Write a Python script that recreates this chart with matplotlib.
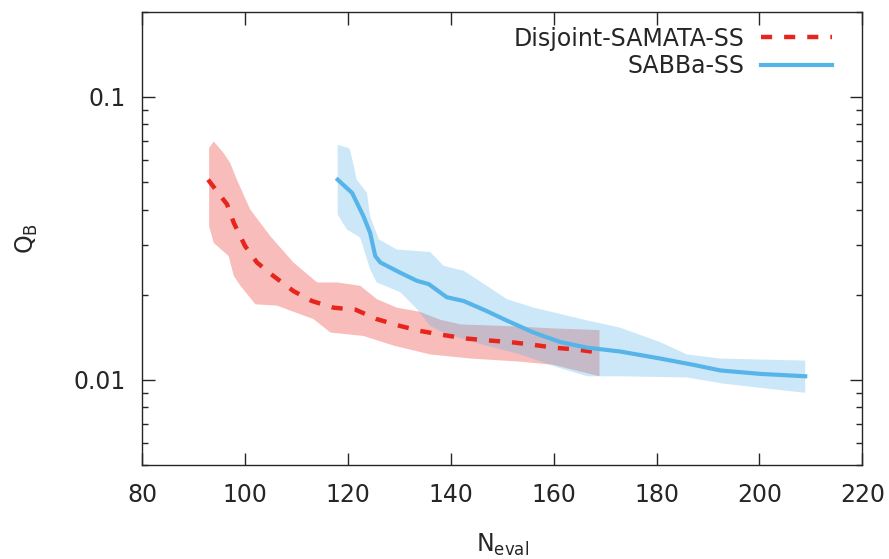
import numpy as np
import matplotlib.pyplot as plt

# Disjoint-SAMATA-SS: mean curve and band edges
samata_x = [92.8, 96.5, 97.8, 100.0, 102.3, 105.5, 109.4, 113.0, 117.2, 121.5, 125.6, 130.2,
            134.0, 138.6, 143.1, 147.0, 151.6, 156.1, 160.0, 164.5, 168.7]
samata_q = [0.0510, 0.0417, 0.0359, 0.0297, 0.0260, 0.0233, 0.0206, 0.0190, 0.0180, 0.0177,
            0.0164, 0.0155, 0.0149, 0.0144, 0.0140, 0.0138, 0.0136, 0.0133, 0.0130, 0.0128, 0.0125]
samata_hi_x = [93.0, 93.9, 95.8, 97.1, 98.4, 101.0, 104.9, 109.4, 114.0, 117.9, 122.4, 125.6,
               129.5, 134.0, 138.0, 142.0, 151.0, 160.0, 168.9]
samata_hi = [0.0660, 0.0696, 0.0634, 0.0584, 0.0510, 0.0400, 0.0322, 0.0260, 0.0221, 0.0221,
             0.0215, 0.0193, 0.0180, 0.0174, 0.0163, 0.0157, 0.0155, 0.0152, 0.0150]
samata_lo_x = [93.0, 93.9, 96.8, 97.8, 99.1, 102.0, 106.2, 113.3, 116.6, 123.0, 129.0, 136.0,
               143.8, 153.5, 160.0, 168.9]
samata_lo = [0.0349, 0.0305, 0.0274, 0.0233, 0.0215, 0.0185, 0.0183, 0.0164, 0.0147, 0.0143,
             0.0132, 0.0123, 0.0119, 0.0116, 0.0113, 0.0103]

# SABBa-SS: mean curve and band edges
sabba_x = [118.0, 120.8, 123.0, 124.3, 125.3, 126.3, 130.2, 133.4, 135.7, 139.2, 142.5, 147.0,
           150.9, 156.1, 161.3, 166.5, 172.9, 180.7, 187.2, 192.4, 200.2, 208.9]
sabba_q = [0.0510, 0.0458, 0.0379, 0.0331, 0.0274, 0.0260, 0.0239, 0.0224, 0.0218, 0.0196,
           0.0190, 0.0175, 0.0162, 0.0147, 0.0136, 0.0130, 0.0126, 0.0119, 0.0113, 0.0108,
           0.0105, 0.0103]
sabba_hi_x = [118.0, 120.1, 120.4, 121.0, 121.7, 123.7, 124.3, 126.0, 129.5, 136.0, 138.6, 142.5,
              147.0, 150.9, 156.1, 161.3, 166.0, 172.9, 180.7, 185.9, 192.4, 208.9]
sabba_hi = [0.0677, 0.0660, 0.0650, 0.0584, 0.0510, 0.0458, 0.0379, 0.0314, 0.0289, 0.0283,
            0.0253, 0.0243, 0.0215, 0.0193, 0.0180, 0.0171, 0.0163, 0.0153, 0.0136, 0.0123,
            0.0119, 0.0117]
sabba_lo_x = [118.0, 119.8, 122.4, 124.3, 125.6, 130.2, 133.4, 136.0, 139.2, 145.7, 153.5,
              160.6, 166.5, 172.9, 185.9, 193.0, 208.9]
sabba_lo = [0.0384, 0.0340, 0.0318, 0.0246, 0.0221, 0.0204, 0.0178, 0.0155, 0.0145, 0.0134,
            0.0123, 0.0111, 0.0103, 0.0103, 0.0102, 0.0097, 0.0090]

RED = '#e8251c'
BLUE = '#56b4e9'
INK = '#262626'
FS = 17

plt.rcParams['font.family'] = 'DejaVu Sans'
plt.rcParams['text.color'] = INK
plt.rcParams['axes.labelcolor'] = INK
plt.rcParams['xtick.color'] = INK
plt.rcParams['ytick.color'] = INK
plt.rcParams['axes.edgecolor'] = INK

fig = plt.figure(figsize=(8.89, 5.59), dpi=100)
ax = fig.add_axes([0.16, 0.168, 0.81, 0.811])


def band(xh, yh, xl, yl, color):
    px = np.concatenate([xh, xl[::-1]])
    py = np.concatenate([yh, yl[::-1]])
    ax.fill(px, py, color=color, alpha=0.3, lw=0)


band(np.array(samata_hi_x), np.array(samata_hi), np.array(samata_lo_x), np.array(samata_lo), RED)
ax.plot(samata_x, samata_q, color=RED, lw=3.2, dashes=(2.5, 2.7), label='Disjoint-SAMATA-SS')
band(np.array(sabba_hi_x), np.array(sabba_hi), np.array(sabba_lo_x), np.array(sabba_lo), BLUE)
ax.plot(sabba_x, sabba_q, color=BLUE, lw=3, label='SABBa-SS')

ax.set_yscale('log')
ax.set_xlim(80, 220)
ax.set_ylim(0.005, 0.2)
ax.set_xticks(np.arange(80, 221, 20))
ax.set_yticks([0.01, 0.1])
ax.set_yticklabels(['0.01', '0.1'])
ax.tick_params(which='both', direction='in', top=True, right=True, labelsize=FS, width=1)
ax.tick_params(which='major', length=9)
ax.tick_params(axis='x', which='major', pad=13)
ax.tick_params(axis='y', which='major', pad=12)
ax.tick_params(which='minor', length=4.5)
ax.tick_params(axis='x', which='minor', top=False, bottom=False)
for s in ax.spines.values():
    s.set_linewidth(1)

ax.set_xlabel(r'N$_{\mathrm{eval}}$', fontsize=FS, labelpad=18)
ax.set_ylabel(r'Q$_{\mathrm{B}}$', fontsize=FS, labelpad=24)

ax.legend(loc='upper right', bbox_to_anchor=(0.958, 0.967), frameon=False, markerfirst=False,
          fontsize=FS, handlelength=3.0, handletextpad=0.7, borderaxespad=0, borderpad=0,
          labelspacing=0.15)

fig.savefig('out.png', dpi=100)
